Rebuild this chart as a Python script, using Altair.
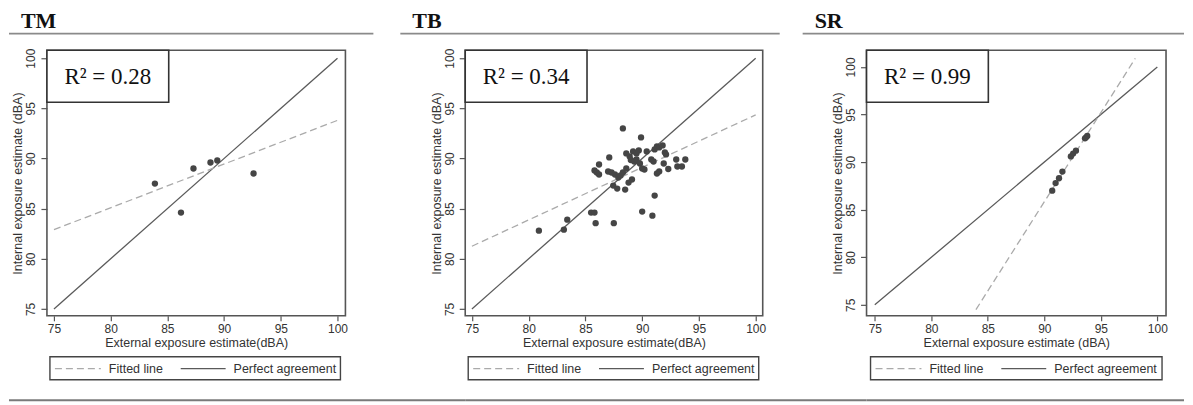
import altair as alt
import pandas as pd

# ---------------- data ----------------
panel_names = ["TM", "TB", "SR"]
r2_labels = ["R\u00b2 = 0.28", "R\u00b2 = 0.34", "R\u00b2 = 0.99"]
x_titles = ["External exposure estimate(dBA)",
            "External exposure estimate(dBA)",
            "External exposure estimate (dBA)"]
y_title = "Internal exposure estimate (dBA)"
tick_values = [75, 80, 85, 90, 95, 100]
legend_labels = ["Fitted line", "Perfect agreement"]

tm_x = [83.9, 86.2, 87.3, 88.8, 89.4, 92.6]
tm_y = [87.5, 84.6, 89.0, 89.6, 89.8, 88.5]

tb_x = [80.9, 83.1, 83.4, 85.5, 85.8, 85.9, 87.5, 90.0, 90.9, 91.1,
        88.3, 89.9, 87.1, 86.2, 85.8, 86.0, 86.2, 87.0, 87.3, 87.6,
        87.9, 88.1, 88.3, 88.6, 87.45, 87.8, 88.5, 88.8, 89.1, 88.9,
        88.6, 89.2, 89.5, 89.7, 89.0, 89.3, 89.5, 89.8, 90.0, 90.2,
        90.4, 90.8, 91.0, 91.1, 91.3, 91.5, 91.8, 92.0, 92.1, 91.9,
        91.3, 91.5, 92.3, 93.0, 93.1, 93.5, 93.8]
tb_y = [82.8, 82.9, 83.9, 84.6, 84.6, 83.55, 83.55, 84.7, 84.3, 86.3,
        93.0, 92.1, 90.1, 89.4, 88.8, 88.6, 88.4, 88.7, 88.6, 88.4,
        88.1, 88.3, 88.6, 89.0, 87.3, 87.0, 86.9, 87.6, 87.9, 90.2,
        90.5, 90.7, 90.5, 90.8, 89.85, 89.7, 89.9, 89.5, 89.0, 88.9,
        90.7, 89.9, 89.7, 90.9, 91.2, 91.1, 91.3, 90.6, 90.4, 89.5,
        88.5, 88.7, 88.95, 89.9, 89.2, 89.2, 89.9]

sr_x = [90.7, 91.0, 91.3, 91.6, 92.35, 92.55, 92.8, 93.6, 93.7, 93.8]
sr_y = [87.0, 87.8, 88.3, 89.0, 90.6, 90.9, 91.2, 92.5, 92.6, 92.75]

fit_tm_x = [75.0, 100.0]
fit_tm_y = [82.9, 93.8]
fit_tb_x = [75.0, 100.0]
fit_tb_y = [81.25, 94.35]
fit_sr_x = [83.95, 98.05]
fit_sr_y = [74.5, 100.9]

perfect_x = [75.0, 100.0]
perfect_y = [75.0, 100.0]

# ---------------- styling ----------------
FRAME = "#555555"
PH = 266  # plot height

one = pd.DataFrame({"k": [0]})


def panel(name, r2, xs, ys, fx, fy, xtitle, total_w, frame_w, xdom, ydom,
          title_dx, rule_x0, rule_x1, bot_x0, bot_x1, leg_x0, leg_x1):
    xsc = alt.Scale(domain=xdom, range=[0, frame_w], nice=False, zero=False)
    ysc = alt.Scale(domain=ydom, nice=False, zero=False)
    common = dict(grid=False, domain=False, labelFont="Liberation Sans",
                  titleFont="Liberation Sans", labelColor="#333333",
                  titleColor="#333333", titleFontWeight="normal",
                  tickColor=FRAME, tickWidth=1.2, labelFontSize=12,
                  titleFontSize=12.5)
    xax = alt.Axis(values=tick_values, title=xtitle, tickSize=5,
                   labelPadding=3, titlePadding=2, **common)
    yax = alt.Axis(values=tick_values, title=y_title, tickSize=6,
                   labelAngle=270, labelAlign="center", labelBaseline="bottom",
                   labelPadding=3, titlePadding=0, **common)
    X = alt.X("x:Q", scale=xsc, axis=xax)
    Y = alt.Y("y:Q", scale=ysc, axis=yax)

    perf = alt.Chart(pd.DataFrame({"x": perfect_x, "y": perfect_y})).mark_line(
        color="#5a5a5a", strokeWidth=1.3).encode(x=X, y=Y)
    fit = alt.Chart(pd.DataFrame({"x": fx, "y": fy})).mark_line(
        color="#aaaaaa", strokeWidth=1.3, strokeDash=[7, 4]).encode(x=X, y=Y)
    pts = alt.Chart(pd.DataFrame({"x": xs, "y": ys})).mark_circle(
        color="#454545", opacity=1, size=40).encode(x=X, y=Y)

    d = alt.Chart(one)
    frame = d.mark_rect(fill=None, stroke=FRAME, strokeWidth=1.6).encode(
        x=alt.value(0), x2=alt.value(frame_w), y=alt.value(0), y2=alt.value(PH))
    box = d.mark_rect(fill="white", stroke="#333333", strokeWidth=1.6).encode(
        x=alt.value(0), x2=alt.value(122), y=alt.value(0), y2=alt.value(52))
    r2t = d.mark_text(text=r2, font="Liberation Serif", fontSize=23,
                      align="center", baseline="alphabetic", color="#111111").encode(
        x=alt.value(61), y=alt.value(33.5))
    ttl = d.mark_text(text=name, font="Liberation Serif", fontSize=22,
                      fontWeight="bold", align="left", baseline="alphabetic",
                      color="#111111").encode(x=alt.value(title_dx), y=alt.value(-22))
    trule = d.mark_rule(color="#8a8a8a", strokeWidth=1.6).encode(
        x=alt.value(rule_x0), x2=alt.value(rule_x1), y=alt.value(-16.7))
    brule = d.mark_rule(color="#7a7a7a", strokeWidth=2).encode(
        x=alt.value(bot_x0), x2=alt.value(bot_x1), y=alt.value(350.5))
    lbox = d.mark_rect(fill="white", stroke="#444444", strokeWidth=1.4).encode(
        x=alt.value(leg_x0), x2=alt.value(leg_x1), y=alt.value(307), y2=alt.value(330))
    ldash = d.mark_rule(color="#aaaaaa", strokeWidth=1.3, strokeDash=[7, 4]).encode(
        x=alt.value(leg_x0 + 5), x2=alt.value(leg_x0 + 51), y=alt.value(319))
    lt1 = d.mark_text(text=legend_labels[0], font="Liberation Sans", fontSize=12.5,
                      align="left", baseline="middle", color="#333333").encode(
        x=alt.value(leg_x0 + 59), y=alt.value(319))
    lsolid = d.mark_rule(color="#5a5a5a", strokeWidth=1.3).encode(
        x=alt.value(leg_x0 + 131), x2=alt.value(leg_x0 + 176), y=alt.value(319))
    lt2 = d.mark_text(text=legend_labels[1], font="Liberation Sans", fontSize=12.5,
                      align="left", baseline="middle", color="#333333").encode(
        x=alt.value(leg_x0 + 184), y=alt.value(319))

    return alt.layer(perf, fit, pts, frame, box, r2t, ttl, trule, brule,
                     lbox, ldash, lt1, lsolid, lt2).properties(
        width=total_w, height=PH)


p1 = panel(panel_names[0], r2_labels[0], tm_x, tm_y, fit_tm_x, fit_tm_y,
           x_titles[0], 315, 299, [74.38, 100.7], [74.31, 100.79],
           -26, -38, 327, -38, 419, 3, 294)
p2 = panel(panel_names[1], r2_labels[1], tb_x, tb_y, fit_tb_x, fit_tb_y,
           x_titles[1], 298, 298, [74.41, 100.62], [74.31, 100.79],
           -53, -65, 315, 0, 402, 3, 294)
p3 = panel(panel_names[2], r2_labels[2], sr_x, sr_y, fit_sr_x, fit_sr_y,
           x_titles[2], 300, 300, [74.27, 100.77], [73.85, 101.75],
           -52, -64, 318, 0, 318, 4, 296)

chart = alt.hconcat(p1, p2, p3, spacing=104, bounds="flush",
                    padding={"left": 0, "top": 2, "right": 0, "bottom": 0},
                    background="white"
).configure_view(
    stroke=None, strokeWidth=0
).configure_axis(
    domain=False, grid=False, titleFontWeight="normal"
)

chart.save("out.html", embed_options={"renderer": "svg", "actions": False})
